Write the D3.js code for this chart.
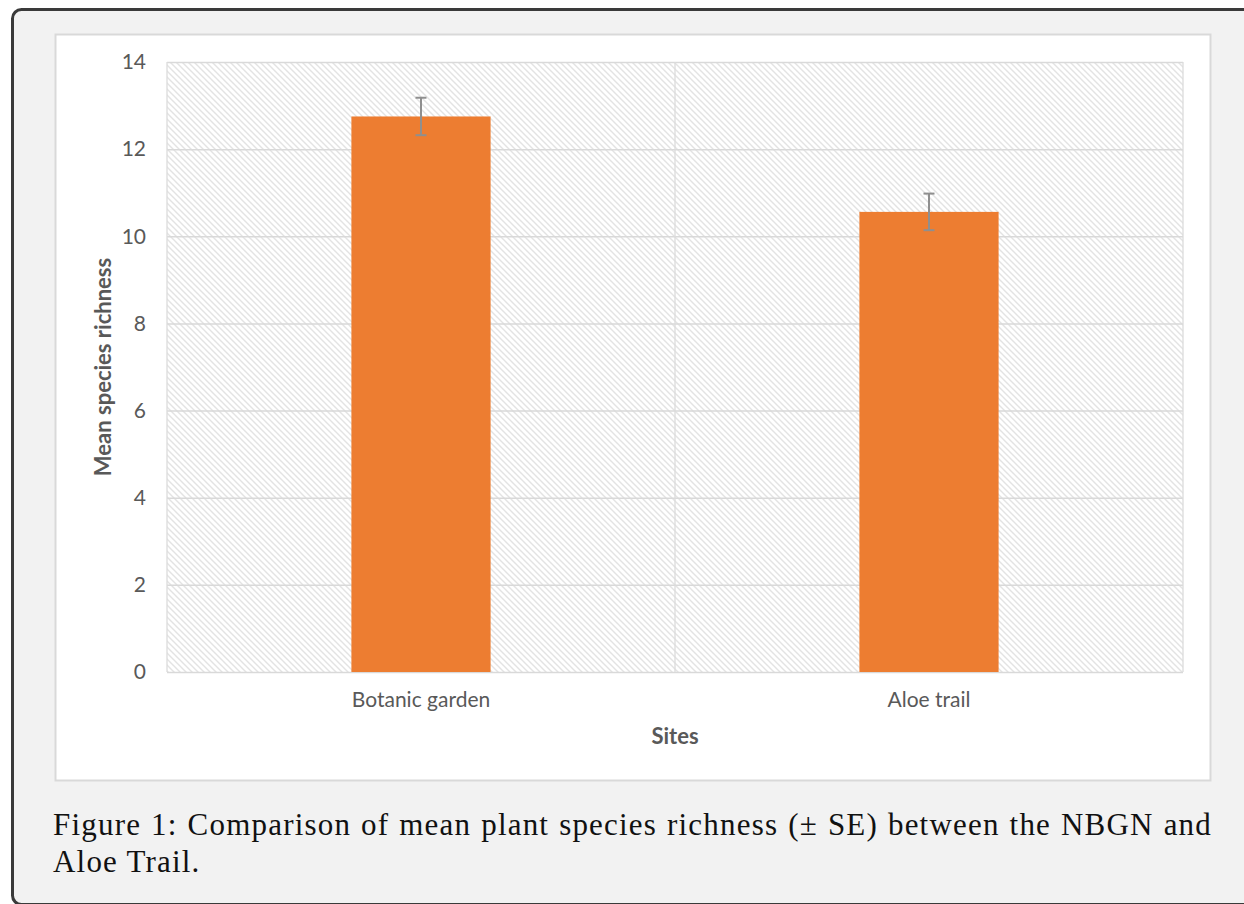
<!DOCTYPE html>
<html><head><meta charset="utf-8">
<script src="https://cdn.jsdelivr.net/npm/d3@7"></script>
<style>html,body{margin:0;padding:0;background:#fff;overflow:hidden} svg{display:block}</style>
</head><body>
<script>
// ---- data ----
const categories = ["Botanic garden", "Aloe trail"];
const means = [12.75, 10.56];
const se = [0.43, 0.42];
const yTicks = [0, 2, 4, 6, 8, 10, 12, 14];
const xTitle = "Sites";
const yTitle = "Mean species richness";
const captionLines = [
  "Figure 1: Comparison of mean plant species richness (\u00B1 SE) between the NBGN and",
  "Aloe Trail."
];

// ---- layout ----
const W = 1244, H = 904;
const plot = {left: 167, right: 1183, top: 62, bottom: 672};

const svg = d3.select("body").append("svg").attr("width", W).attr("height", H);

// outer frame
svg.append("rect").attr("x", 0).attr("y", 0).attr("width", W).attr("height", H).attr("fill", "#ffffff");
svg.append("rect").attr("x", 12.5).attr("y", 9.5).attr("width", 1300).attr("height", 895)
  .attr("rx", 9).attr("fill", "#f2f2f2").attr("stroke", "#3a3a3a").attr("stroke-width", 3);

// chart panel
svg.append("rect").attr("x", 55.5).attr("y", 34.5).attr("width", 1155).attr("height", 746)
  .attr("fill", "#ffffff").attr("stroke", "#d9d9d9").attr("stroke-width", 2);

// hatch pattern
const defs = svg.append("defs");
const pat = defs.append("pattern").attr("id", "hatch").attr("patternUnits", "userSpaceOnUse")
  .attr("width", 6).attr("height", 6);
pat.append("rect").attr("width", 6).attr("height", 6).attr("fill", "#ffffff");
pat.append("path").attr("d", "M-1,-1 L7,7 M-4,2 L4,10 M2,-4 L10,4")
  .attr("stroke", "#e3e3e3").attr("stroke-width", 1.4);

svg.append("rect").attr("x", plot.left).attr("y", plot.top)
  .attr("width", plot.right - plot.left).attr("height", plot.bottom - plot.top)
  .attr("fill", "url(#hatch)");

// scales
const x = d3.scaleBand().domain(categories).range([plot.left, plot.right])
  .paddingInner(0.726).paddingOuter(0.363);
const y = d3.scaleLinear().domain([0, 14]).range([plot.bottom, plot.top]);

// horizontal gridlines
const gGrid = svg.append("g").attr("transform", `translate(${plot.left},0)`)
  .call(d3.axisLeft(y).tickValues(yTicks).tickSize(-(plot.right - plot.left)).tickFormat(""));
gGrid.select(".domain").remove();
gGrid.selectAll("line").attr("stroke", "#d9d9d9").attr("stroke-width", 1.5);

// vertical gridlines at category boundaries
const step = x.step();
const bounds = [0, 1, 2].map(i => plot.left + i * step);
svg.append("g").selectAll("line").data(bounds).join("line")
  .attr("x1", d => d).attr("x2", d => d).attr("y1", plot.top).attr("y2", plot.bottom)
  .attr("stroke", "#dcdcdc").attr("stroke-width", 1.3);

// bars
svg.append("g").selectAll("rect").data(categories).join("rect")
  .attr("x", d => x(d)).attr("width", x.bandwidth())
  .attr("y", (d, i) => y(means[i])).attr("height", (d, i) => y(0) - y(means[i]))
  .attr("fill", "#ED7D31");

// error bars
const eb = svg.append("g").attr("stroke", "#8f8f8f").attr("stroke-width", 2);
categories.forEach((c, i) => {
  const cx = x(c) + x.bandwidth() / 2;
  const hi = y(means[i] + se[i]), lo = y(means[i] - se[i]);
  eb.append("line").attr("x1", cx).attr("x2", cx).attr("y1", hi).attr("y2", lo);
  eb.append("line").attr("x1", cx - 5.5).attr("x2", cx + 5.5).attr("y1", hi).attr("y2", hi);
  eb.append("line").attr("x1", cx - 5.5).attr("x2", cx + 5.5).attr("y1", lo).attr("y2", lo);
});

const tickFont = "Lato, 'Open Sans', sans-serif";
// y axis labels
const gy = svg.append("g").attr("transform", `translate(${plot.left},0)`)
  .call(d3.axisLeft(y).tickValues(yTicks).tickSize(0).tickPadding(21));
gy.select(".domain").remove();
gy.selectAll("text").attr("font-family", tickFont).attr("font-size", 21).attr("fill", "#595959");

// x axis labels
const gx = svg.append("g").attr("transform", `translate(0,${plot.bottom})`)
  .call(d3.axisBottom(x).tickSize(0).tickPadding(20));
gx.select(".domain").remove();
gx.selectAll("text").attr("font-family", tickFont).attr("font-size", 21).attr("fill", "#595959");

// axis titles
svg.append("text").attr("x", (plot.left + plot.right) / 2).attr("y", 744)
  .attr("text-anchor", "middle").attr("font-family", tickFont).attr("font-weight", "bold")
  .attr("font-size", 22).attr("fill", "#595959").text(xTitle);
svg.append("text").attr("transform", `translate(111,${(plot.top + plot.bottom) / 2}) rotate(-90)`)
  .attr("text-anchor", "middle").attr("font-family", tickFont).attr("font-weight", "bold")
  .attr("font-size", 22).attr("fill", "#595959").text(yTitle);

// caption (first line justified via word spacing)
const capFont = "'Liberation Serif', 'Times New Roman', serif";
const cap1 = svg.append("text").attr("x", 53).attr("y", 835).attr("font-family", capFont)
  .attr("font-size", 31).attr("fill", "#111").attr("letter-spacing", 1.2)
  .text(captionLines[0]);
const natural = cap1.node().getComputedTextLength();
const nSpaces = captionLines[0].split(" ").length - 1;
cap1.attr("word-spacing", Math.max(0, (1212 - 53 - natural) / nSpaces));
svg.append("text").attr("x", 53).attr("y", 872).attr("font-family", capFont).attr("font-size", 31)
  .attr("fill", "#111").attr("letter-spacing", 1.2).text(captionLines[1]);
</script>
</body></html>
